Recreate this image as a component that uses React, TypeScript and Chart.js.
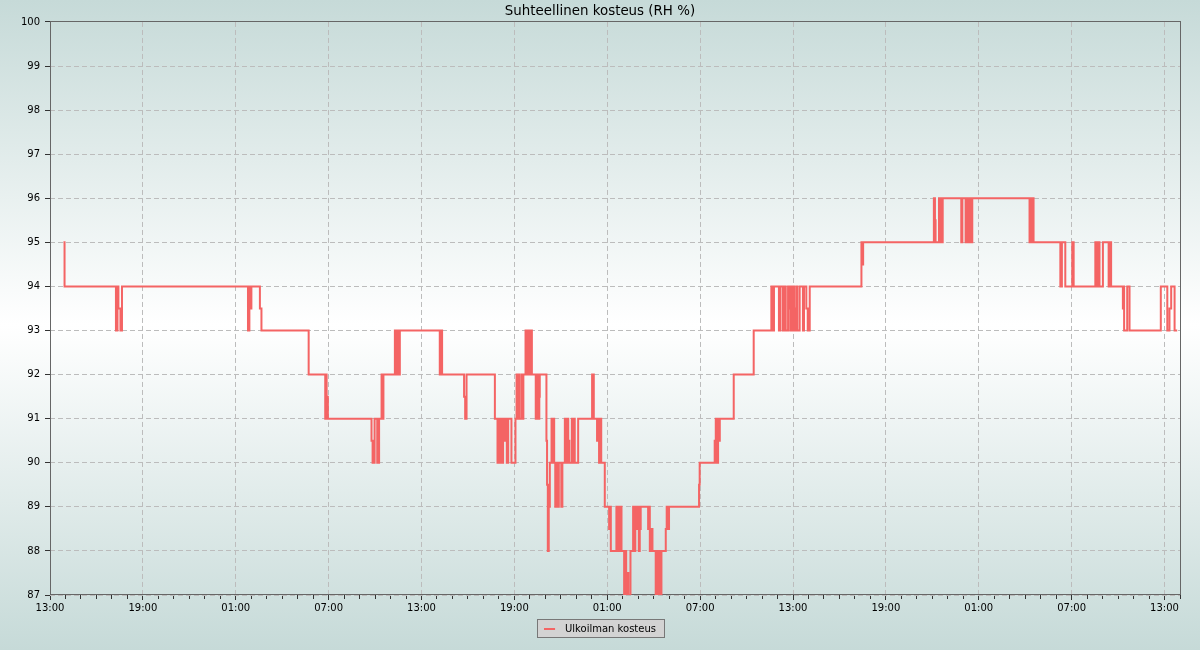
import { useEffect, useRef } from 'react';
import { Chart, registerables } from 'chart.js';

Chart.register(...registerables);

const chartTitle = 'Suhteellinen kosteus (RH %)';
const seriesLabel = 'Ulkoilman kosteus';
const startHour = 13; // first x tick is 13:00
const xMaxHours = 73;
const yMin = 87;
const yMax = 100;

// hours since 13:00 on the first day
const timeHours = [
  0.87, 0.94, 4.26, 4.36, 4.42, 4.55, 4.65, 12.79, 12.88, 12.95, 13.01, 13.56, 13.66, 16.71,
  17.78, 17.82, 17.87, 17.95, 20.77, 20.84, 20.97, 21.14, 21.26, 21.42, 21.47, 21.54,
  22.28, 22.38, 22.44, 22.54, 22.6, 25.18, 25.25, 25.33, 26.75, 26.82, 26.91,
  28.74, 28.91, 28.97, 29.03, 29.09, 29.16, 29.27, 29.32, 29.38, 29.51, 29.6, 29.81,
  30.07, 30.14, 30.19, 30.25, 30.31, 30.45, 30.51, 30.58, 30.72, 30.8, 30.87, 30.96, 31.03, 31.13,
  31.38, 31.45, 31.51, 31.61, 31.64, 32.07, 32.11, 32.16, 32.22, 32.29, 32.4, 32.45, 32.5, 32.57,
  32.64, 32.72, 32.8, 32.87, 33.03, 33.1, 33.26, 33.32, 33.42, 33.48, 33.55, 33.71, 33.77, 33.84, 33.9,
  34.12, 35.02, 35.13, 35.34, 35.42, 35.47, 35.55, 35.61, 35.84, 36.12, 36.18, 36.23,
  36.59, 36.66, 36.72, 36.79, 36.85, 36.92, 37.09, 37.16, 37.22, 37.26, 37.36, 37.5,
  37.67, 37.73, 37.81, 37.89, 37.95, 38.04, 38.1, 38.16, 38.64, 38.7, 38.75, 38.81, 38.92,
  39.13, 39.2, 39.26, 39.36, 39.42, 39.5, 39.78, 39.84, 39.91, 39.99, 41.93, 41.97,
  42.94, 43.01, 43.07, 43.16, 43.2, 43.27, 44.17, 45.46,
  46.6, 46.69, 46.77, 47.09, 47.19, 47.35, 47.42, 47.53, 47.68, 47.75, 47.82, 47.88, 47.95,
  48.01, 48.08, 48.14, 48.22, 48.28, 48.43, 48.64, 48.71, 48.86, 48.95, 49.08,
  52.42, 52.47, 52.53, 57.1, 57.17, 57.21, 57.43, 57.47, 57.54, 57.6, 57.67,
  58.87, 58.94, 59.15, 59.22, 59.28, 59.34, 59.41, 59.47, 59.58,
  63.28, 63.35, 63.41, 63.48, 63.54, 65.27, 65.37, 65.59, 66.04, 66.13,
  67.53, 67.61, 67.71, 67.8, 68.02, 68.39, 68.45, 68.55,
  69.31, 69.35, 69.39, 69.59, 69.74, 71.76, 72.18, 72.32, 72.43, 72.65, 72.82,
];

// relative humidity (%) holding from each time above until the next one
const humidity = [
  95, 94, 93, 94, 93.5, 93, 94, 93, 94, 93.5, 94, 93.5, 93, 92,
  91, 92, 91.5, 91, 90.5, 90, 91, 90, 91, 92, 91, 92,
  93, 92, 93, 92, 93, 92, 93, 92, 91.5, 91, 92,
  91, 90, 91, 90, 91, 90, 91, 90.5, 91, 90, 91, 90,
  91, 92, 91, 92, 91, 92, 91, 92, 93, 92, 93, 92, 93, 92,
  91, 92, 91, 91.5, 92, 90.5, 89.5, 88, 89, 90, 91, 90, 91, 90,
  89, 90, 89, 90, 89, 90, 91, 90, 91, 90.5, 90, 91, 90, 91, 90,
  91, 92, 91, 90.5, 91, 90, 91, 90, 89, 88.5, 89, 88,
  89, 88, 89, 88, 89, 88, 87, 88, 87, 87.5, 87, 88,
  89, 88, 89, 88.5, 89, 88, 88.5, 89, 88.5, 89, 88, 88.5, 88,
  87, 88, 87, 88, 87, 88, 88.5, 89, 88.5, 89, 89.5, 90,
  90.5, 91, 90, 91, 90.5, 91, 92, 93,
  94, 93, 94, 93, 94, 93, 94, 93, 94, 93.5, 93, 94, 93,
  94, 93.5, 93, 94, 93, 94, 93, 94, 93.5, 93, 94,
  95, 94.5, 95, 96, 95.5, 95, 96, 95, 96, 95, 96,
  95, 96, 95, 96, 95.5, 95, 96, 95, 96,
  95, 96, 95, 96, 95, 94, 95, 94, 95, 94,
  95, 94, 95, 94, 95, 94, 95, 94,
  93.5, 94, 93, 94, 93, 94, 93, 93.5, 94, 93, 93,
];

const LINE_COLOR = '#f46464';
const GRID_COLOR = '#bcbcbc';
const FRAME_COLOR = '#666666';

const fmtHour = (v: number) => {
  const h = (startHour + v) % 24;
  return (h < 10 ? '0' : '') + h + ':00';
};

const backgroundPlugin = {
  id: 'bgAndLegendBox',
  beforeDraw(chart: any) {
    const { ctx, width, height } = chart;
    ctx.save();
    const g = ctx.createLinearGradient(0, 0, 0, height);
    g.addColorStop(0, '#c6dad8');
    g.addColorStop(0.5, '#ffffff');
    g.addColorStop(1, '#c6dad8');
    ctx.fillStyle = g;
    ctx.fillRect(0, 0, width, height);
    const hb = chart.legend && chart.legend.legendHitBoxes && chart.legend.legendHitBoxes[0];
    if (hb) {
      const x = Math.round(hb.left) - 7;
      const y = Math.round(hb.top) - 5;
      const w = Math.round(hb.width) + 15;
      ctx.fillStyle = '#d3d3d3';
      ctx.fillRect(x, y, w, 18);
      ctx.strokeStyle = '#777777';
      ctx.lineWidth = 1;
      ctx.strokeRect(x + 0.5, y + 0.5, w, 18);
    }
    ctx.restore();
  },
};

const framePlugin = {
  id: 'plotFrame',
  beforeDatasetsDraw(chart: any) {
    const { ctx, chartArea } = chart;
    ctx.save();
    ctx.strokeStyle = FRAME_COLOR;
    ctx.lineWidth = 1;
    ctx.setLineDash([]);
    ctx.strokeRect(
      Math.floor(chartArea.left) + 0.5,
      Math.floor(chartArea.top) + 0.5,
      Math.round(chartArea.right - chartArea.left),
      Math.round(chartArea.bottom - chartArea.top)
    );
    ctx.restore();
  },
};

export default function App() {
  const ref = useRef<HTMLCanvasElement>(null);

  useEffect(() => {
    const canvas = ref.current;
    if (!canvas) return;
    Chart.defaults.font.family = "'DejaVu Sans', sans-serif";
    Chart.defaults.font.size = 10;
    Chart.defaults.color = '#000';

    const marker = document.createElement('canvas');
    marker.width = 16;
    marker.height = 2;
    const mctx = marker.getContext('2d');
    if (mctx) {
      mctx.fillStyle = LINE_COLOR;
      mctx.fillRect(0, 0, 11, 2);
    }

    const chart = new Chart(canvas, {
      type: 'line',
      data: {
        datasets: [
          {
            label: seriesLabel,
            data: timeHours.map((t, i) => ({ x: t, y: humidity[i] })),
            borderColor: LINE_COLOR,
            backgroundColor: LINE_COLOR,
            borderWidth: 2,
            pointRadius: 0,
            stepped: true,
            fill: false,
          },
        ],
      },
      options: {
        responsive: false,
        animation: false,
        layout: { padding: { left: 0, right: 0, top: 0, bottom: 6 } },
        plugins: {
          title: {
            display: true,
            text: chartTitle,
            color: '#000',
            font: { size: 13.4, weight: 'normal', lineHeight: 1.17 },
            padding: { top: 4, bottom: 2.3 },
          },
          legend: {
            position: 'bottom',
            labels: {
              usePointStyle: true,
              pointStyle: marker as any,
              pointStyleWidth: 16,
              color: '#000',
              font: { size: 10 },
              padding: 10,
            },
          },
          tooltip: { enabled: false },
        },
        scales: {
          x: {
            type: 'linear',
            position: 'bottom',
            min: 0,
            max: xMaxHours,
            afterFit: (s: any) => {
              s.height = 19;
            },
            ticks: {
              stepSize: 1,
              autoSkip: false,
              maxRotation: 0,
              padding: 2,
              color: '#000',
              font: { size: 10 },
              callback: (v: any) => {
                const n = Math.round(Number(v));
                return n % 6 === 0 ? fmtHour(n) : '';
              },
            },
            grid: {
              color: (c: any) =>
                c.tick && Math.round(c.tick.value) % 6 === 0 ? GRID_COLOR : 'rgba(0,0,0,0)',
              tickColor: '#333',
              tickLength: 5,
              tickBorderDash: (c: any) =>
                c.tick && Math.round(c.tick.value) % 6 === 0 ? [] : [4, 20],
            },
            border: { display: false, dash: [5, 3] },
          },
          y: {
            type: 'linear',
            min: yMin,
            max: yMax,
            afterFit: (s: any) => {
              s.width = 50;
            },
            ticks: { stepSize: 1, padding: 5, color: '#000', font: { size: 10 } },
            grid: { color: GRID_COLOR, tickColor: '#333', tickLength: 5 },
            border: { display: false, dash: [5, 3] },
          },
          yRight: {
            type: 'linear',
            position: 'right',
            display: true,
            afterFit: (s: any) => {
              s.width = 20;
            },
            grid: { display: false },
            ticks: { display: false },
            border: { display: false },
          },
        },
      } as any,
      plugins: [backgroundPlugin, framePlugin],
    });

    return () => chart.destroy();
  }, []);

  return (
    <div style={{ position: 'absolute', left: 0, top: 0, width: 1200, height: 650 }}>
      <canvas ref={ref} width={1200} height={650} style={{ display: 'block' }} />
    </div>
  );
}
